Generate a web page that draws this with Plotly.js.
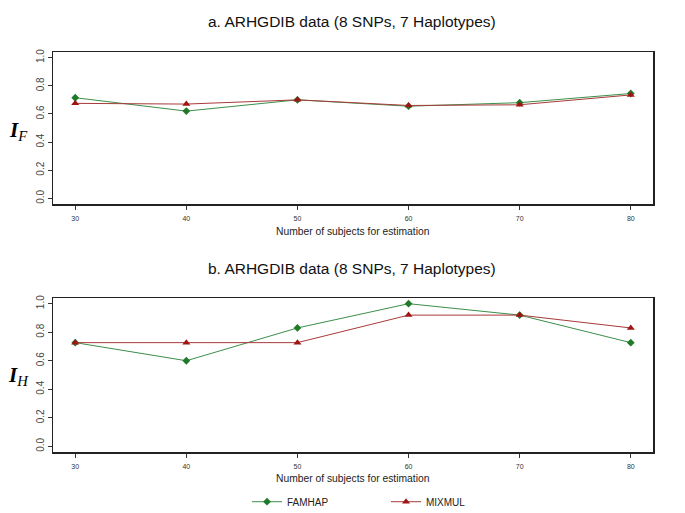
<!DOCTYPE html>
<html>
<head>
<meta charset="utf-8">
<script src="https://cdn.plot.ly/plotly-3.0.1.min.js"></script>
<style>html,body{margin:0;padding:0;background:#fff;}#chart{width:685px;height:513px;}</style>
</head>
<body>
<div id="chart"></div>
<script>
const subjects = [30, 40, 50, 60, 70, 80];
const famhapIF = [0.715, 0.62, 0.70, 0.655, 0.68, 0.745];
const mixmulIF = [0.675, 0.67, 0.70, 0.66, 0.665, 0.735];
const famhapIH = [0.727, 0.60, 0.83, 1.0, 0.92, 0.727];
const mixmulIH = [0.727, 0.727, 0.727, 0.92, 0.92, 0.83];
const yTicks = [0, 0.2, 0.4, 0.6, 0.8, 1.0];
const yTickText = ["0.0", "0.2", "0.4", "0.6", "0.8", "1.0"];
const titleA = "a. ARHGDIB data (8 SNPs, 7 Haplotypes)";
const titleB = "b. ARHGDIB data (8 SNPs, 7 Haplotypes)";
const xTitle = "Number of subjects for estimation";

const green = "#1f7a2a", greenLine = "#3c8f4a";
const red = "#a01414", redLine = "#a83a3a";

const traces = [
  {x: subjects, y: famhapIF, name: "FAMHAP", mode: "lines+markers", xaxis: "x", yaxis: "y",
   line: {color: greenLine, width: 1}, marker: {symbol: "diamond", size: 6, color: green}, legendgroup: "f"},
  {x: subjects, y: mixmulIF, name: "MIXMUL", mode: "lines+markers", xaxis: "x", yaxis: "y",
   line: {color: redLine, width: 1}, marker: {symbol: "triangle-up", size: 7, color: red}, legendgroup: "m"},
  {x: subjects, y: famhapIH, name: "FAMHAP", mode: "lines+markers", xaxis: "x2", yaxis: "y2", showlegend: false,
   line: {color: greenLine, width: 1}, marker: {symbol: "diamond", size: 6, color: green}, legendgroup: "f"},
  {x: subjects, y: mixmulIH, name: "MIXMUL", mode: "lines+markers", xaxis: "x2", yaxis: "y2", showlegend: false,
   line: {color: redLine, width: 1}, marker: {symbol: "triangle-up", size: 7, color: red}, legendgroup: "m"}
];

const font = "Liberation Sans, Arial, sans-serif";
const xAx = {
  range: [28, 82], tickvals: subjects, ticks: "outside", ticklen: 4, tickcolor: "#333",
  ticklabelstandoff: 3,
  showline: true, linecolor: "#222", linewidth: 1.5, mirror: true, showgrid: false, zeroline: false,
  automargin: false,
  tickfont: {size: 7, color: "#333", family: font}
};
const yAx = {
  range: [-0.04, 1.04], tickvals: yTicks, ticktext: yTickText, ticks: "outside", ticklen: 4, tickcolor: "#333",
  tickangle: -90, showline: true, linecolor: "#222", linewidth: 1.5, mirror: true, showgrid: false, zeroline: false,
  automargin: false,
  tickfont: {size: 10, color: "#444", family: font}
};

function py(p) { return (452 - p) / 400; }

const layout = {
  width: 685, height: 513,
  margin: {l: 53, r: 32, t: 52, b: 61, autoexpand: false},
  paper_bgcolor: "#fff", plot_bgcolor: "#fff",
  showlegend: true,
  legend: {orientation: "h", xref: "container", yref: "container", x: 0.3606, xanchor: "left",
           y: 0.022, yanchor: "middle",
           font: {size: 10, color: "#222", family: font}, entrywidth: 94, itemwidth: 30},
  xaxis: Object.assign({}, xAx, {anchor: "y"}),
  yaxis: Object.assign({}, yAx, {domain: [0.62, 1], anchor: "x"}),
  xaxis2: Object.assign({}, xAx, {anchor: "y2"}),
  yaxis2: Object.assign({}, yAx, {domain: [0, 0.385], anchor: "x2"}),
  annotations: [
    {text: titleA, xref: "paper", yref: "paper", x: 0.498, y: py(21), xanchor: "center", yanchor: "middle",
     showarrow: false, font: {size: 15.5, color: "#111", family: font}},
    {text: titleB, xref: "paper", yref: "paper", x: 0.498, y: py(268), xanchor: "center", yanchor: "middle",
     showarrow: false, font: {size: 15.5, color: "#111", family: font}},
    {text: xTitle, xref: "paper", yref: "paper", x: 0.5, y: py(232), xanchor: "center", yanchor: "middle",
     showarrow: false, font: {size: 10.3, color: "#222", family: font}},
    {text: xTitle, xref: "paper", yref: "paper", x: 0.5, y: py(479), xanchor: "center", yanchor: "middle",
     showarrow: false, font: {size: 10.3, color: "#222", family: font}},
    {text: "<b><i>I</i></b><sub><i>F</i></sub>", xref: "paper", yref: "paper", x: -0.058, y: py(131), xanchor: "center", yanchor: "middle",
     showarrow: false, font: {size: 21, color: "#000", family: "Liberation Serif, Times New Roman, serif"}},
    {text: "<b><i>I</i></b><sub><i>H</i></sub>", xref: "paper", yref: "paper", x: -0.058, y: py(376), xanchor: "center", yanchor: "middle",
     showarrow: false, font: {size: 21, color: "#000", family: "Liberation Serif, Times New Roman, serif"}}
  ]
};

Plotly.newPlot("chart", traces, layout, {displayModeBar: false, staticPlot: true});
</script>
</body>
</html>
